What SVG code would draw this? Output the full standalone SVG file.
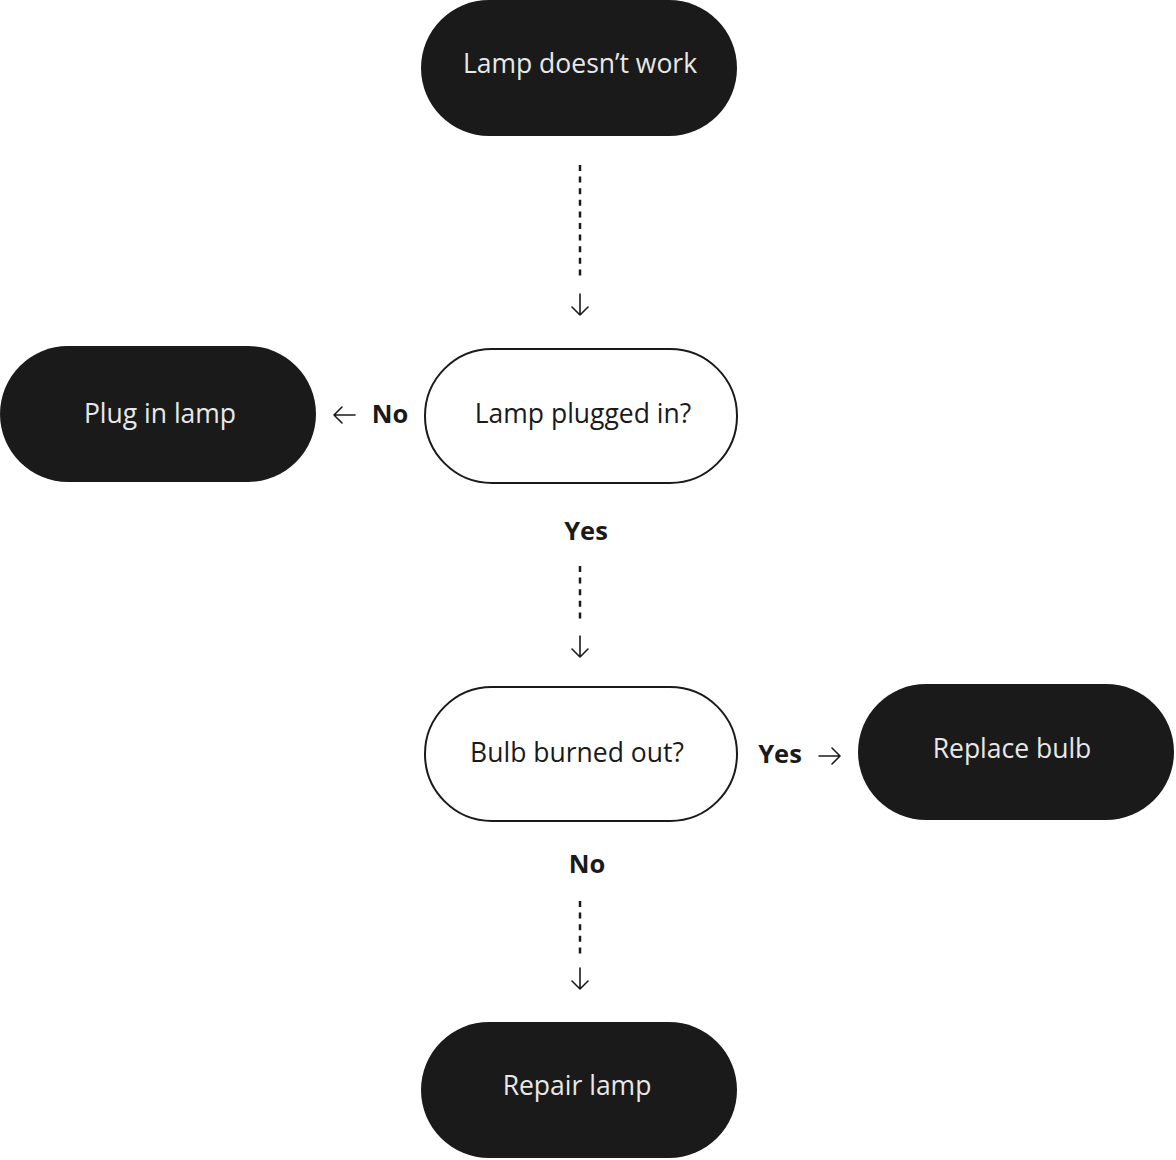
<svg xmlns="http://www.w3.org/2000/svg" width="1176" height="1160" viewBox="0 0 1176 1160">
<style>
.term{fill:#1a1a1a}
.dec{fill:#ffffff;stroke:#1a1a1a;stroke-width:2}
.tl{font-family:"Open Sans","Noto Sans","Liberation Sans",sans-serif;font-size:26.5px;font-weight:400;fill:#e8e8e8;text-anchor:middle}
.td{font-family:"Open Sans","Noto Sans","Liberation Sans",sans-serif;font-size:26.5px;font-weight:400;fill:#1a1a1a;text-anchor:middle}
.lbl{font-family:"Open Sans","Noto Sans","Liberation Sans",sans-serif;font-size:25.5px;font-weight:700;fill:#1a1a1a;text-anchor:middle}
.dash{stroke:#1a1a1a;stroke-width:2.5;stroke-dasharray:6 5.6;fill:none}
.arr{stroke:#1a1a1a;stroke-width:1.6;fill:none;stroke-linecap:round;stroke-linejoin:round}
</style>
<rect width="1176" height="1160" fill="#ffffff"/>
<g id="connectors">
<path class="dash" d="M580 165V279"/>
<path class="arr" d="M580 294V315M572 307L580 315L588 307"/>
<path class="dash" d="M580 566V621"/>
<path class="arr" d="M580 636V657M572 649L580 657L588 649"/>
<path class="dash" d="M580 901V956"/>
<path class="arr" d="M580 968V989M572 981L580 989L588 981"/>
<path class="arr" d="M355 415H334M342 407L334 415L342 423"/>
<path class="arr" d="M819 756H840M832 748L840 756L832 764"/>
<text class="lbl" x="390" y="423">No</text>
<text class="lbl" x="586" y="540">Yes</text>
<text class="lbl" x="780" y="763">Yes</text>
<text class="lbl" x="587" y="873">No</text>
</g>
<g id="n-start"><rect class="term" x="421" y="0" width="316" height="136" rx="68"/><text class="tl" x="580" y="73">Lamp doesn’t work</text></g>
<g id="n-plugged"><rect class="dec" x="425" y="349" width="312" height="134" rx="67"/><text class="td" x="583" y="423">Lamp plugged in?</text></g>
<g id="n-plugin"><rect class="term" x="0" y="346" width="316" height="136" rx="68"/><text class="tl" x="160" y="423">Plug in lamp</text></g>
<g id="n-bulb"><rect class="dec" x="425" y="687" width="312" height="134" rx="67"/><text class="td" x="577" y="762">Bulb burned out?</text></g>
<g id="n-replace"><rect class="term" x="858" y="684" width="316" height="136" rx="68"/><text class="tl" x="1012" y="758">Replace bulb</text></g>
<g id="n-repair"><rect class="term" x="421" y="1022" width="316" height="136" rx="68"/><text class="tl" x="577" y="1095">Repair lamp</text></g>
</svg>
